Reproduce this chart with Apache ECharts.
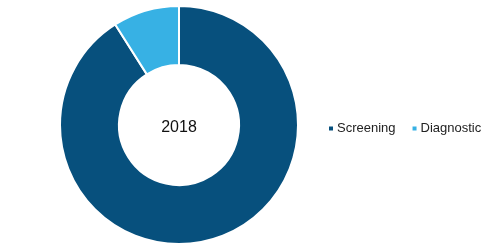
<!DOCTYPE html>
<html><head><meta charset="utf-8">
<script src="https://cdn.jsdelivr.net/npm/echarts@6/dist/echarts.min.js"></script>
<style>html,body{margin:0;padding:0;background:#fff}#c{width:485px;height:250px}</style>
</head><body><div id="c"></div>
<script>
const categories = ["Screening", "Diagnostic"];
const values = [91, 9];
const colors = ["#07507d", "#37b1e4"];
const centerLabel = "2018";

const chart = echarts.init(document.getElementById('c'), null, {renderer: 'canvas'});
chart.setOption({
  animation: false,
  color: colors,
  graphic: [{
    type: 'text', x: 179, y: 128, z: 100,
    style: {text: centerLabel, textAlign: 'center', textVerticalAlign: 'middle',
      font: '16px "Liberation Sans"', fill: '#111'}
  }],
  legend: {
    orient: 'horizontal', left: 327, top: 122, width: 200,
    itemWidth: 6, itemHeight: 6, itemGap: 15, padding: 0,
    icon: 'rect',
    textStyle: {fontFamily: 'Liberation Sans', fontSize: 13, color: '#222', padding: [0,0,0,-2]},
    data: categories
  },
  series: [{
    type: 'pie',
    center: [179, 125],
    radius: [60, 119],
    startAngle: 90,
    clockwise: true,
    label: {show: false},
    labelLine: {show: false},
    itemStyle: {borderColor: '#fff', borderWidth: 2},
    emphasis: {disabled: true},
    data: categories.map((c, i) => ({name: c, value: values[i]}))
  }]
});
</script></body></html>
